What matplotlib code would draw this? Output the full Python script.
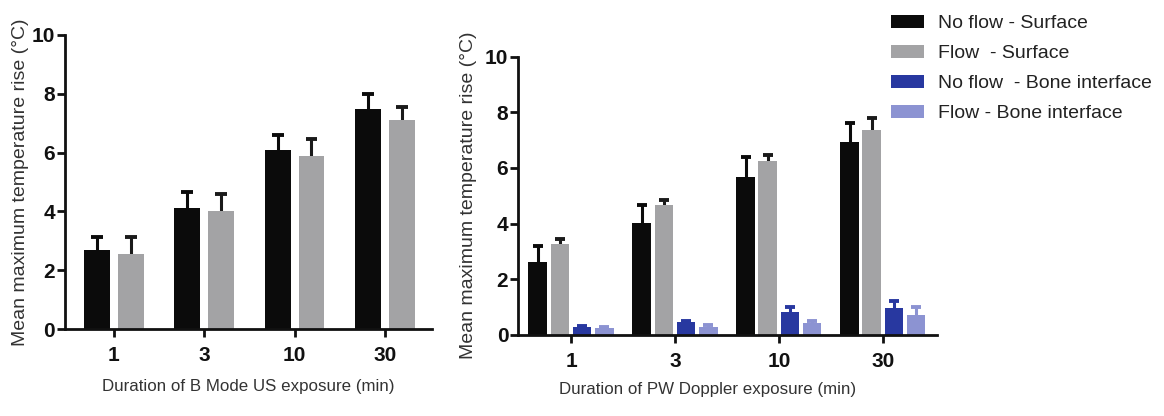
import matplotlib
matplotlib.use("Agg")
import matplotlib.pyplot as plt
import numpy as np
from matplotlib.patches import Patch

plt.rcParams["font.family"] = ["Liberation Sans", "DejaVu Sans"]

durations = ["1", "3", "10", "30"]

# B mode (left panel)
bm_noflow = [2.68, 4.13, 6.09, 7.48]
bm_noflow_err = [0.46, 0.53, 0.51, 0.52]
bm_flow = [2.56, 4.01, 5.90, 7.12]
bm_flow_err = [0.57, 0.59, 0.56, 0.42]

# PW Doppler (right panel)
pw_noflow_surf = [2.62, 4.01, 5.69, 6.92]
pw_noflow_surf_err = [0.58, 0.66, 0.69, 0.68]
pw_flow_surf = [3.26, 4.65, 6.23, 7.35]
pw_flow_surf_err = [0.19, 0.20, 0.24, 0.45]
pw_noflow_bone = [0.28, 0.45, 0.84, 0.98]
pw_noflow_bone_err = [0.03, 0.05, 0.16, 0.22]
pw_flow_bone = [0.24, 0.28, 0.42, 0.72]
pw_flow_bone_err = [0.03, 0.06, 0.08, 0.28]

labels = ["No flow - Surface", "Flow  - Surface", "No flow  - Bone interface", "Flow - Bone interface"]
colors = ["#0b0b0b", "#a3a3a5", "#2838a0", "#8c93d2"]
cap_colors = ["#0b0b0b", "#1a1a1a", "#2838a0", "#8c93d2"]

fig = plt.figure(figsize=(11.64, 4.16), dpi=100)
axL = fig.add_axes([0.0558, 0.209, 0.3153, 0.707])
axR = fig.add_axes([0.4450, 0.195, 0.3600, 0.669])


def draw(ax, series, errs, width, offsets, cols, capcols, cap):
    x = np.arange(len(durations))
    for vals, err, off, c, cc in zip(series, errs, offsets, cols, capcols):
        xs = x + off
        top = np.array(vals) + np.array(err)
        # upper-only error bars: stem + cap, drawn behind the bars
        ax.vlines(xs, vals, top, colors=cc, linewidth=2.2, zorder=1)
        ax.hlines(top, xs - cap, xs + cap, colors=cc, linewidth=2.8, zorder=1)
        ax.bar(xs, vals, width=width, color=c, zorder=2)
    ax.set_xticks(x)
    ax.set_xticklabels(durations)
    ax.set_ylim(0, 10)
    ax.set_yticks([0, 2, 4, 6, 8, 10])
    for s in ("top", "right"):
        ax.spines[s].set_visible(False)
    for s in ("left", "bottom"):
        ax.spines[s].set_linewidth(2)
        ax.spines[s].set_color("#111111")
    ax.tick_params(width=2, length=6, color="#111111")
    ax.tick_params(axis="y", pad=1)
    ax.tick_params(axis="x", pad=6)
    for t in ax.get_xticklabels() + ax.get_yticklabels():
        t.set_fontweight("bold")
        t.set_fontsize(15)
        t.set_color("#111111")


draw(axL, [bm_noflow, bm_flow], [bm_noflow_err, bm_flow_err], 0.286,
     [-0.187, 0.187], colors[:2], cap_colors[:2], 0.065)
axL.set_xlim(-0.54, 3.52)
axL.set_xlabel("Duration of B Mode US exposure (min)", fontsize=12.2, color="#333333", labelpad=10)
axL.set_ylabel("Mean maximum temperature rise (°C)", fontsize=14, color="#333333", labelpad=2)

pitch = 0.212
draw(axR, [pw_noflow_surf, pw_flow_surf, pw_noflow_bone, pw_flow_bone],
     [pw_noflow_surf_err, pw_flow_surf_err, pw_noflow_bone_err, pw_flow_bone_err],
     0.182, [-1.5 * pitch, -0.5 * pitch, 0.5 * pitch, 1.5 * pitch], colors, cap_colors, 0.045)
axR.set_xlim(-0.51, 3.52)
axR.set_xlabel("Duration of PW Doppler exposure (min)", fontsize=12.2, color="#333333")
axR.xaxis.set_label_coords(0.452, -0.168)
axR.set_ylabel("Mean maximum temperature rise (°C)", fontsize=14, color="#333333", labelpad=6)

handles = [Patch(facecolor=c, edgecolor="none") for c in colors]
fig.legend(handles, labels, loc="upper left", bbox_to_anchor=(0.750, 1.007), frameon=False,
           fontsize=14, handlelength=1.7, handleheight=0.67, labelspacing=0.65,
           handletextpad=0.75, labelcolor="#222222")

fig.savefig("out.png", dpi=100)
